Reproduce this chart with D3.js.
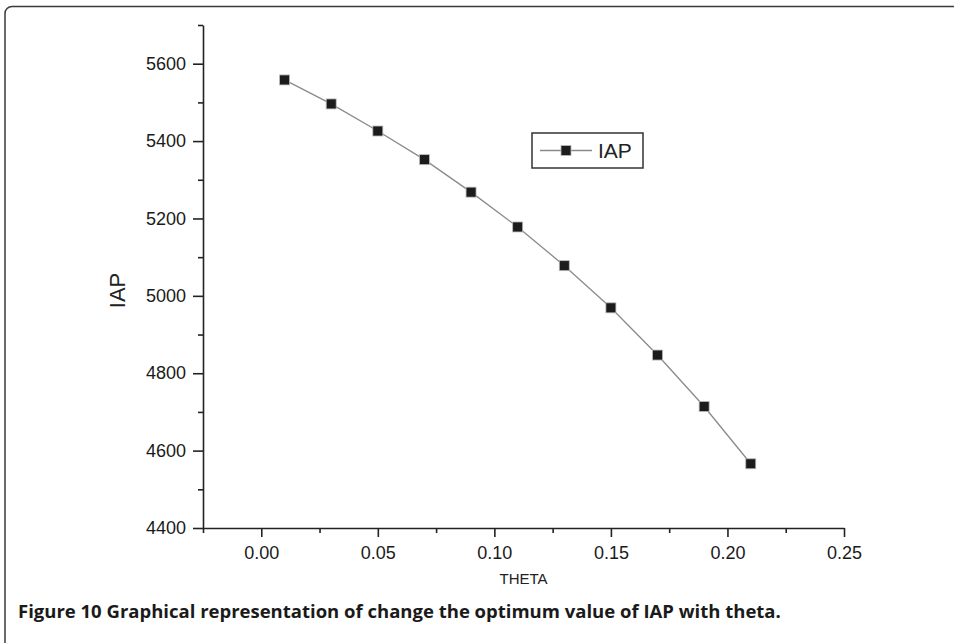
<!DOCTYPE html>
<html>
<head>
<meta charset="utf-8">
<script src="https://cdn.jsdelivr.net/npm/d3@7"></script>
<style>
  body { margin: 0; background: #fff; }
  svg { display: block; }
</style>
</head>
<body>
<div id="chart"></div>
<script>
// values
const theta = [0.01, 0.03, 0.05, 0.07, 0.09, 0.11, 0.13, 0.15, 0.17, 0.19, 0.21];
const iap = [5558, 5496, 5426, 5352, 5268, 5178, 5078, 4969, 4847, 4714, 4566];
const xMajor = [0.00, 0.05, 0.10, 0.15, 0.20, 0.25];
const xMinor = [-0.025, 0.025, 0.075, 0.125, 0.175, 0.225];
const yMajor = [4400, 4600, 4800, 5000, 5200, 5400, 5600];
const yMinor = [4500, 4700, 4900, 5100, 5300, 5500, 5700];
const seriesName = "IAP";
const caption = "Figure 10 Graphical representation of change the optimum value of IAP with theta.";

const width = 954, height = 643;
const plot = {left: 203, right: 844, top: 25, bottom: 528};

let svg = d3.select("#chart")
    .append("svg")
    .attr("width", width)
    .attr("height", height);

// outer frame (runs off the right / bottom edge)
svg.append("rect")
    .attr("x", 5)
    .attr("y", 6.5)
    .attr("width", 980)
    .attr("height", 700)
    .attr("rx", 7)
    .style("fill", "none")
    .style("stroke", "#3a3a3a")
    .style("stroke-width", "1.5px");

let x = d3.scaleLinear().domain([-0.025, 0.25]).range([plot.left, plot.right]);
let y = d3.scaleLinear().domain([4400, 5700]).range([plot.bottom, plot.top]);

const axisFont = "'Liberation Sans', Arial, sans-serif";

// x axis
let gx = svg.append("g").attr("transform", `translate(0,${plot.bottom})`);
gx.call(d3.axisBottom(x).tickValues(xMajor).tickFormat(d3.format(".2f"))
        .tickSize(9).tickPadding(9).tickSizeOuter(0));
gx.append("g").call(d3.axisBottom(x).tickValues(xMinor).tickFormat("")
        .tickSize(5).tickSizeOuter(0))
    .select(".domain").remove();

// y axis
let gy = svg.append("g").attr("transform", `translate(${plot.left},0)`);
gy.call(d3.axisLeft(y).tickValues(yMajor).tickFormat(d3.format("d"))
        .tickSize(10).tickPadding(7).tickSizeOuter(0));
gy.append("g").call(d3.axisLeft(y).tickValues(yMinor).tickFormat("")
        .tickSize(5).tickSizeOuter(0))
    .select(".domain").remove();

svg.selectAll(".domain, .tick line")
    .style("stroke", "#222")
    .style("stroke-width", "1.6px");
svg.selectAll(".tick text")
    .style("font-family", axisFont)
    .style("font-size", "18px")
    .style("fill", "#1a1a1a");

// axis titles
svg.append("text")
    .attr("x", (plot.left + plot.right) / 2)
    .attr("y", 584)
    .attr("text-anchor", "middle")
    .attr("font-family", axisFont)
    .attr("font-size", "15px")
    .attr("fill", "#222")
    .text("THETA");

svg.append("text")
    .attr("transform", `translate(125,${(plot.top + plot.bottom) / 2 + 14}) rotate(-90)`)
    .attr("text-anchor", "middle")
    .attr("font-family", axisFont)
    .attr("font-size", "22px")
    .attr("fill", "#222")
    .text(seriesName);

// series
let pts = theta.map((t, i) => ({t: t, v: iap[i]}));
let line = d3.line().x(d => x(d.t)).y(d => y(d.v));

svg.append("path")
    .datum(pts)
    .attr("d", line)
    .style("fill", "none")
    .style("stroke", "#8a8a8a")
    .style("stroke-width", "1.3px");

const ms = 10;
svg.selectAll(".marker")
    .data(pts)
    .join("rect")
    .classed("marker", true)
    .attr("x", d => x(d.t) - ms / 2)
    .attr("y", d => y(d.v) - ms / 2)
    .attr("width", ms)
    .attr("height", ms)
    .style("fill", "#1c1c1c")
    .style("stroke", "#bbb")
    .style("stroke-width", "0.8px");

// legend
let lg = svg.append("g").attr("transform", "translate(532,133)");
lg.append("rect")
    .attr("width", 111)
    .attr("height", 35)
    .style("fill", "#fff")
    .style("stroke", "#333")
    .style("stroke-width", "1.5px");
lg.append("line")
    .attr("x1", 8).attr("x2", 60)
    .attr("y1", 17.5).attr("y2", 17.5)
    .style("stroke", "#8a8a8a")
    .style("stroke-width", "1.3px");
lg.append("rect")
    .attr("x", 34 - ms / 2).attr("y", 17.5 - ms / 2)
    .attr("width", ms).attr("height", ms)
    .style("fill", "#1c1c1c")
    .style("stroke", "#bbb")
    .style("stroke-width", "0.8px");
lg.append("text")
    .attr("x", 66)
    .attr("y", 25)
    .attr("font-family", axisFont)
    .attr("font-size", "21px")
    .attr("fill", "#222")
    .text(seriesName);

// caption
svg.append("text")
    .attr("x", 18)
    .attr("y", 618)
    .attr("font-family", "'Open Sans', 'Noto Sans', sans-serif")
    .attr("font-weight", "bold")
    .attr("font-size", "18.5px")
    .attr("fill", "#1a1a1a")
    .text(caption);
</script>
</body>
</html>
